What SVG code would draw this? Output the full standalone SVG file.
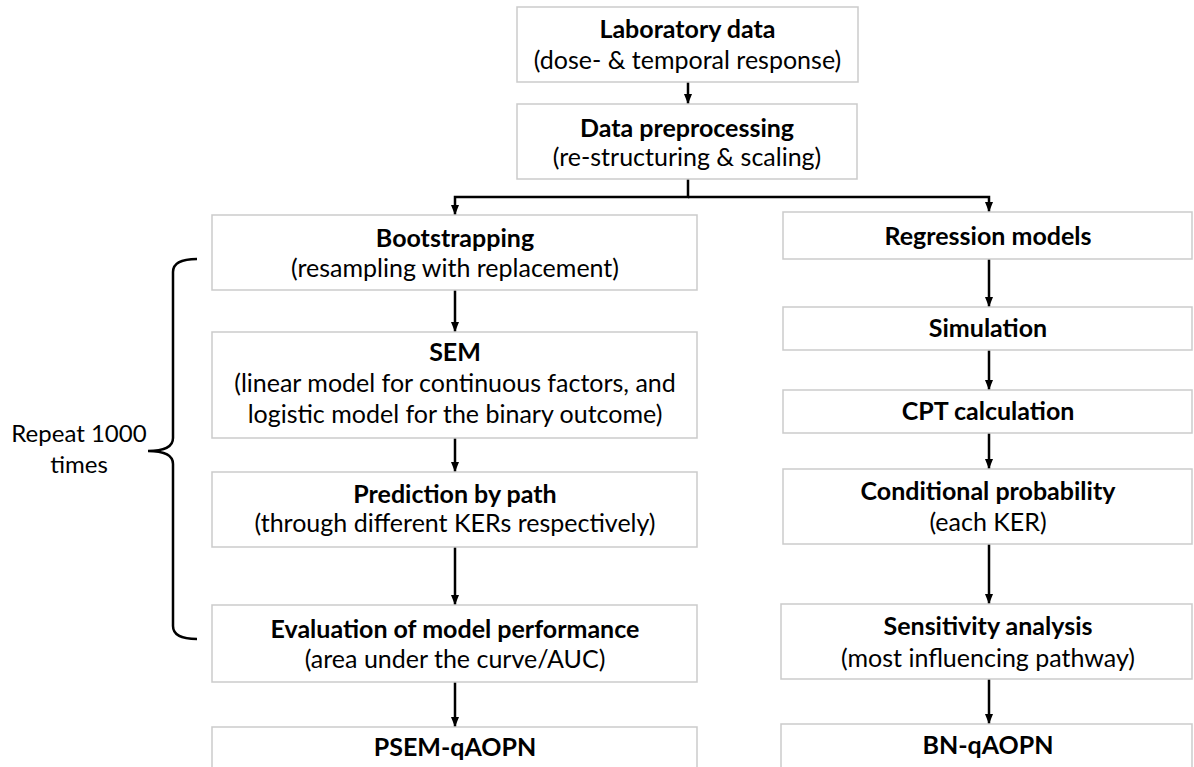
<svg xmlns="http://www.w3.org/2000/svg" width="1194" height="767" viewBox="0 0 1194 767">
<style>
.box{fill:#fff;stroke:#cbcbcb;stroke-width:1.5}
.t{font-family:Lato,"Open Sans",sans-serif;font-size:25px;fill:#000;text-anchor:middle}
.b{font-weight:bold}
.r{font-size:24px}
.c{fill:none;stroke:#000;stroke-width:2.5}
</style>
<defs>
<marker id="ah" markerUnits="userSpaceOnUse" viewBox="0 0 10 10" refX="10" refY="5" markerWidth="10" markerHeight="10" orient="auto">
<path d="M0,1 L10,5 L0,9 Z" fill="#000"/>
</marker>
</defs>
<rect width="1194" height="767" fill="#fff"/>
<g id="connectors">
<line class="c" x1="688" y1="82" x2="688" y2="104" marker-end="url(#ah)"/>
<polyline class="c" points="688,179 688,197 455,197 455,215" marker-end="url(#ah)"/>
<polyline class="c" points="688,197 989,197 989,212" marker-end="url(#ah)"/>
<line class="c" x1="455" y1="290" x2="455" y2="332" marker-end="url(#ah)"/>
<line class="c" x1="455" y1="438" x2="455" y2="472" marker-end="url(#ah)"/>
<line class="c" x1="455" y1="547" x2="455" y2="605" marker-end="url(#ah)"/>
<line class="c" x1="455" y1="682" x2="455" y2="727" marker-end="url(#ah)"/>
<line class="c" x1="989" y1="259" x2="989" y2="307" marker-end="url(#ah)"/>
<line class="c" x1="989" y1="350" x2="989" y2="390" marker-end="url(#ah)"/>
<line class="c" x1="989" y1="433" x2="989" y2="469" marker-end="url(#ah)"/>
<line class="c" x1="989" y1="544" x2="989" y2="604" marker-end="url(#ah)"/>
<line class="c" x1="989" y1="679" x2="989" y2="724" marker-end="url(#ah)"/>
</g>
<g id="lab">
<rect class="box" x="517" y="7" width="341" height="75"/>
<text class="t b" x="687.5" y="38">Laboratory data</text>
<text class="t" x="687.5" y="69">(dose- &amp; temporal response)</text>
</g>
<g id="preprocessing">
<rect class="box" x="517" y="104" width="340" height="75"/>
<text class="t b" x="687" y="137">Data preprocessing</text>
<text class="t" x="687" y="166">(re-structuring &amp; scaling)</text>
</g>
<g id="bootstrapping">
<rect class="box" x="212" y="215" width="485" height="75"/>
<text class="t b" x="455" y="247">Bootstrapping</text>
<text class="t" x="455" y="277">(resampling with replacement)</text>
</g>
<g id="sem">
<rect class="box" x="212" y="332" width="485" height="106"/>
<text class="t b" x="455" y="361">SEM</text>
<text class="t" x="455" y="392">(linear model for continuous factors, and</text>
<text class="t" x="455" y="423">logistic model for the binary outcome)</text>
</g>
<g id="prediction">
<rect class="box" x="212" y="472" width="485" height="75"/>
<text class="t b" x="455" y="503">Prediction by path</text>
<text class="t" x="455" y="532">(through different KERs respectively)</text>
</g>
<g id="evaluation">
<rect class="box" x="212" y="605" width="485" height="77"/>
<text class="t b" x="455" y="638">Evaluation of model performance</text>
<text class="t" x="455" y="668">(area under the curve/AUC)</text>
</g>
<g id="psem">
<rect class="box" x="212" y="727" width="485" height="60"/>
<text class="t b" x="455" y="756">PSEM-qAOPN</text>
</g>
<g id="regression">
<rect class="box" x="783" y="212" width="409" height="47"/>
<text class="t b" x="988" y="245">Regression models</text>
</g>
<g id="simulation">
<rect class="box" x="783" y="307" width="409" height="43"/>
<text class="t b" x="988" y="337">Simulation</text>
</g>
<g id="cpt">
<rect class="box" x="783" y="390" width="409" height="43"/>
<text class="t b" x="988" y="420">CPT calculation</text>
</g>
<g id="conditional">
<rect class="box" x="783" y="469" width="409" height="75"/>
<text class="t b" x="988" y="500">Conditional probability</text>
<text class="t" x="988" y="531">(each KER)</text>
</g>
<g id="sensitivity">
<rect class="box" x="781" y="604" width="411" height="75"/>
<text class="t b" x="988" y="635">Sensitivity analysis</text>
<text class="t" x="988" y="667">(most influencing pathway)</text>
</g>
<g id="bn">
<rect class="box" x="781" y="724" width="411" height="60"/>
<text class="t b" x="988" y="754">BN-qAOPN</text>
</g>
<g id="repeat">
<path class="c" d="M197,259 Q173,259 173,272 L173,438 Q173,451 148,451 Q173,451 173,464 L173,626 Q173,639 197,639"/>
<text class="t r" x="79" y="442">Repeat 1000</text>
<text class="t r" x="79" y="473">times</text>
</g>
</svg>
